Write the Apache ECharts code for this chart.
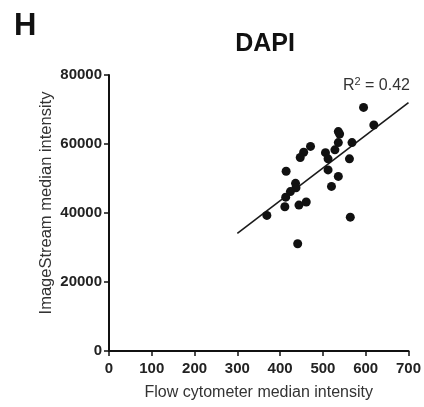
<!DOCTYPE html>
<html>
<head>
<meta charset="utf-8">
<script src="https://cdn.jsdelivr.net/npm/echarts@6/dist/echarts.min.js"></script>
<style>
html, body { margin: 0; padding: 0; background: #fff; }
#dapi { width: 424px; height: 407px; }
</style>
</head>
<body>
<div id="dapi"></div>
<script>
// flow cytometer vs imagestream medians
var flowX = [595, 619, 536, 539, 536, 568, 471, 455, 447, 506, 528, 512, 562, 414,
             512, 536, 520, 436, 437, 424, 413, 411, 444, 461, 369, 564, 441];
var streamY = [70600, 65500, 63600, 62900, 60400, 60400, 59300, 57600, 56100, 57500, 58300, 55700, 55700, 52100,
               52500, 50600, 47700, 48600, 47300, 46200, 44600, 41800, 42300, 43200, 39300, 38800, 31100];
// fitted line ends
var fitX = [300, 700];
var fitY = [34100, 72000];
var xTicks = [0, 100, 200, 300, 400, 500, 600, 700];
var yTicks = [0, 20000, 40000, 60000, 80000];

function mainChart(){
	var chart = echarts.init(document.querySelector('#dapi'))

	var pts = flowX.map(function(x, i){ return [x, streamY[i]] })
	var fit = fitX.map(function(x, i){ return [x, fitY[i]] })
	var font = 'Arial, "Liberation Sans", sans-serif'

	var option = {
		animation: false,
		textStyle: { fontFamily: font },
		title: [
			{ text: 'H', left: 9, top: 6,
			  textStyle: { fontSize: 31, fontWeight: 'bold', color: '#111', fontFamily: font } },
			{ text: 'DAPI', left: 260, top: 27, textAlign: 'center',
			  textStyle: { fontSize: 25, fontWeight: 'bold', color: '#111', fontFamily: font } },
			{ text: 'R{s|2} = 0.42', right: 9, top: 71,
			  textStyle: { fontSize: 16, fontWeight: 'normal', color: '#333', fontFamily: font,
			    rich: { s: { fontSize: 11, fontWeight: 'normal', verticalAlign: 'top', padding: [0, 0, 9, 0], color: '#333' } } } }
		],
		grid: { left: 109, right: 15, top: 75, bottom: 56 },
		xAxis: {
			type: 'value', min: 0, max: 700, interval: 100,
			name: 'Flow cytometer median intensity',
			nameLocation: 'middle', nameGap: 34, nameMoveOverlap: false,
			nameTextStyle: { fontSize: 16, color: '#333' },
			splitLine: { show: false },
			axisLine: { lineStyle: { color: '#111', width: 2 } },
			axisTick: { length: 5, lineStyle: { color: '#111', width: 1.5 } },
			axisLabel: { fontSize: 15, fontWeight: 'bold', color: '#222', margin: 10,
				formatter: function(v){ return xTicks.indexOf(v) >= 0 ? String(v) : '' } }
		},
		yAxis: {
			type: 'value', min: 0, max: 80000, interval: 20000,
			name: 'ImageStream median intensity',
			nameLocation: 'middle', nameGap: 54, nameMoveOverlap: false,
			nameTextStyle: { fontSize: 16.5, color: '#333', padding: [0, 0, 0, 20] },
			splitLine: { show: false },
			axisLine: { show: true, lineStyle: { color: '#111', width: 2 } },
			axisTick: { show: true, length: 5, lineStyle: { color: '#111', width: 1.5 } },
			axisLabel: { fontSize: 15, fontWeight: 'bold', color: '#222', margin: 7,
				formatter: function(v){ return yTicks.indexOf(v) >= 0 ? String(v) : '' } }
		},
		series: [
			{
				type: 'line', data: fit, showSymbol: false, silent: true,
				lineStyle: { color: '#1a1a1a', width: 1.6 }, z: 1
			},
			{
				type: 'scatter', data: pts, symbolSize: 9,
				itemStyle: { color: '#111', opacity: 1 }, z: 2
			}
		]
	};

	chart.setOption(option)
}

mainChart()
</script>
</body>
</html>
